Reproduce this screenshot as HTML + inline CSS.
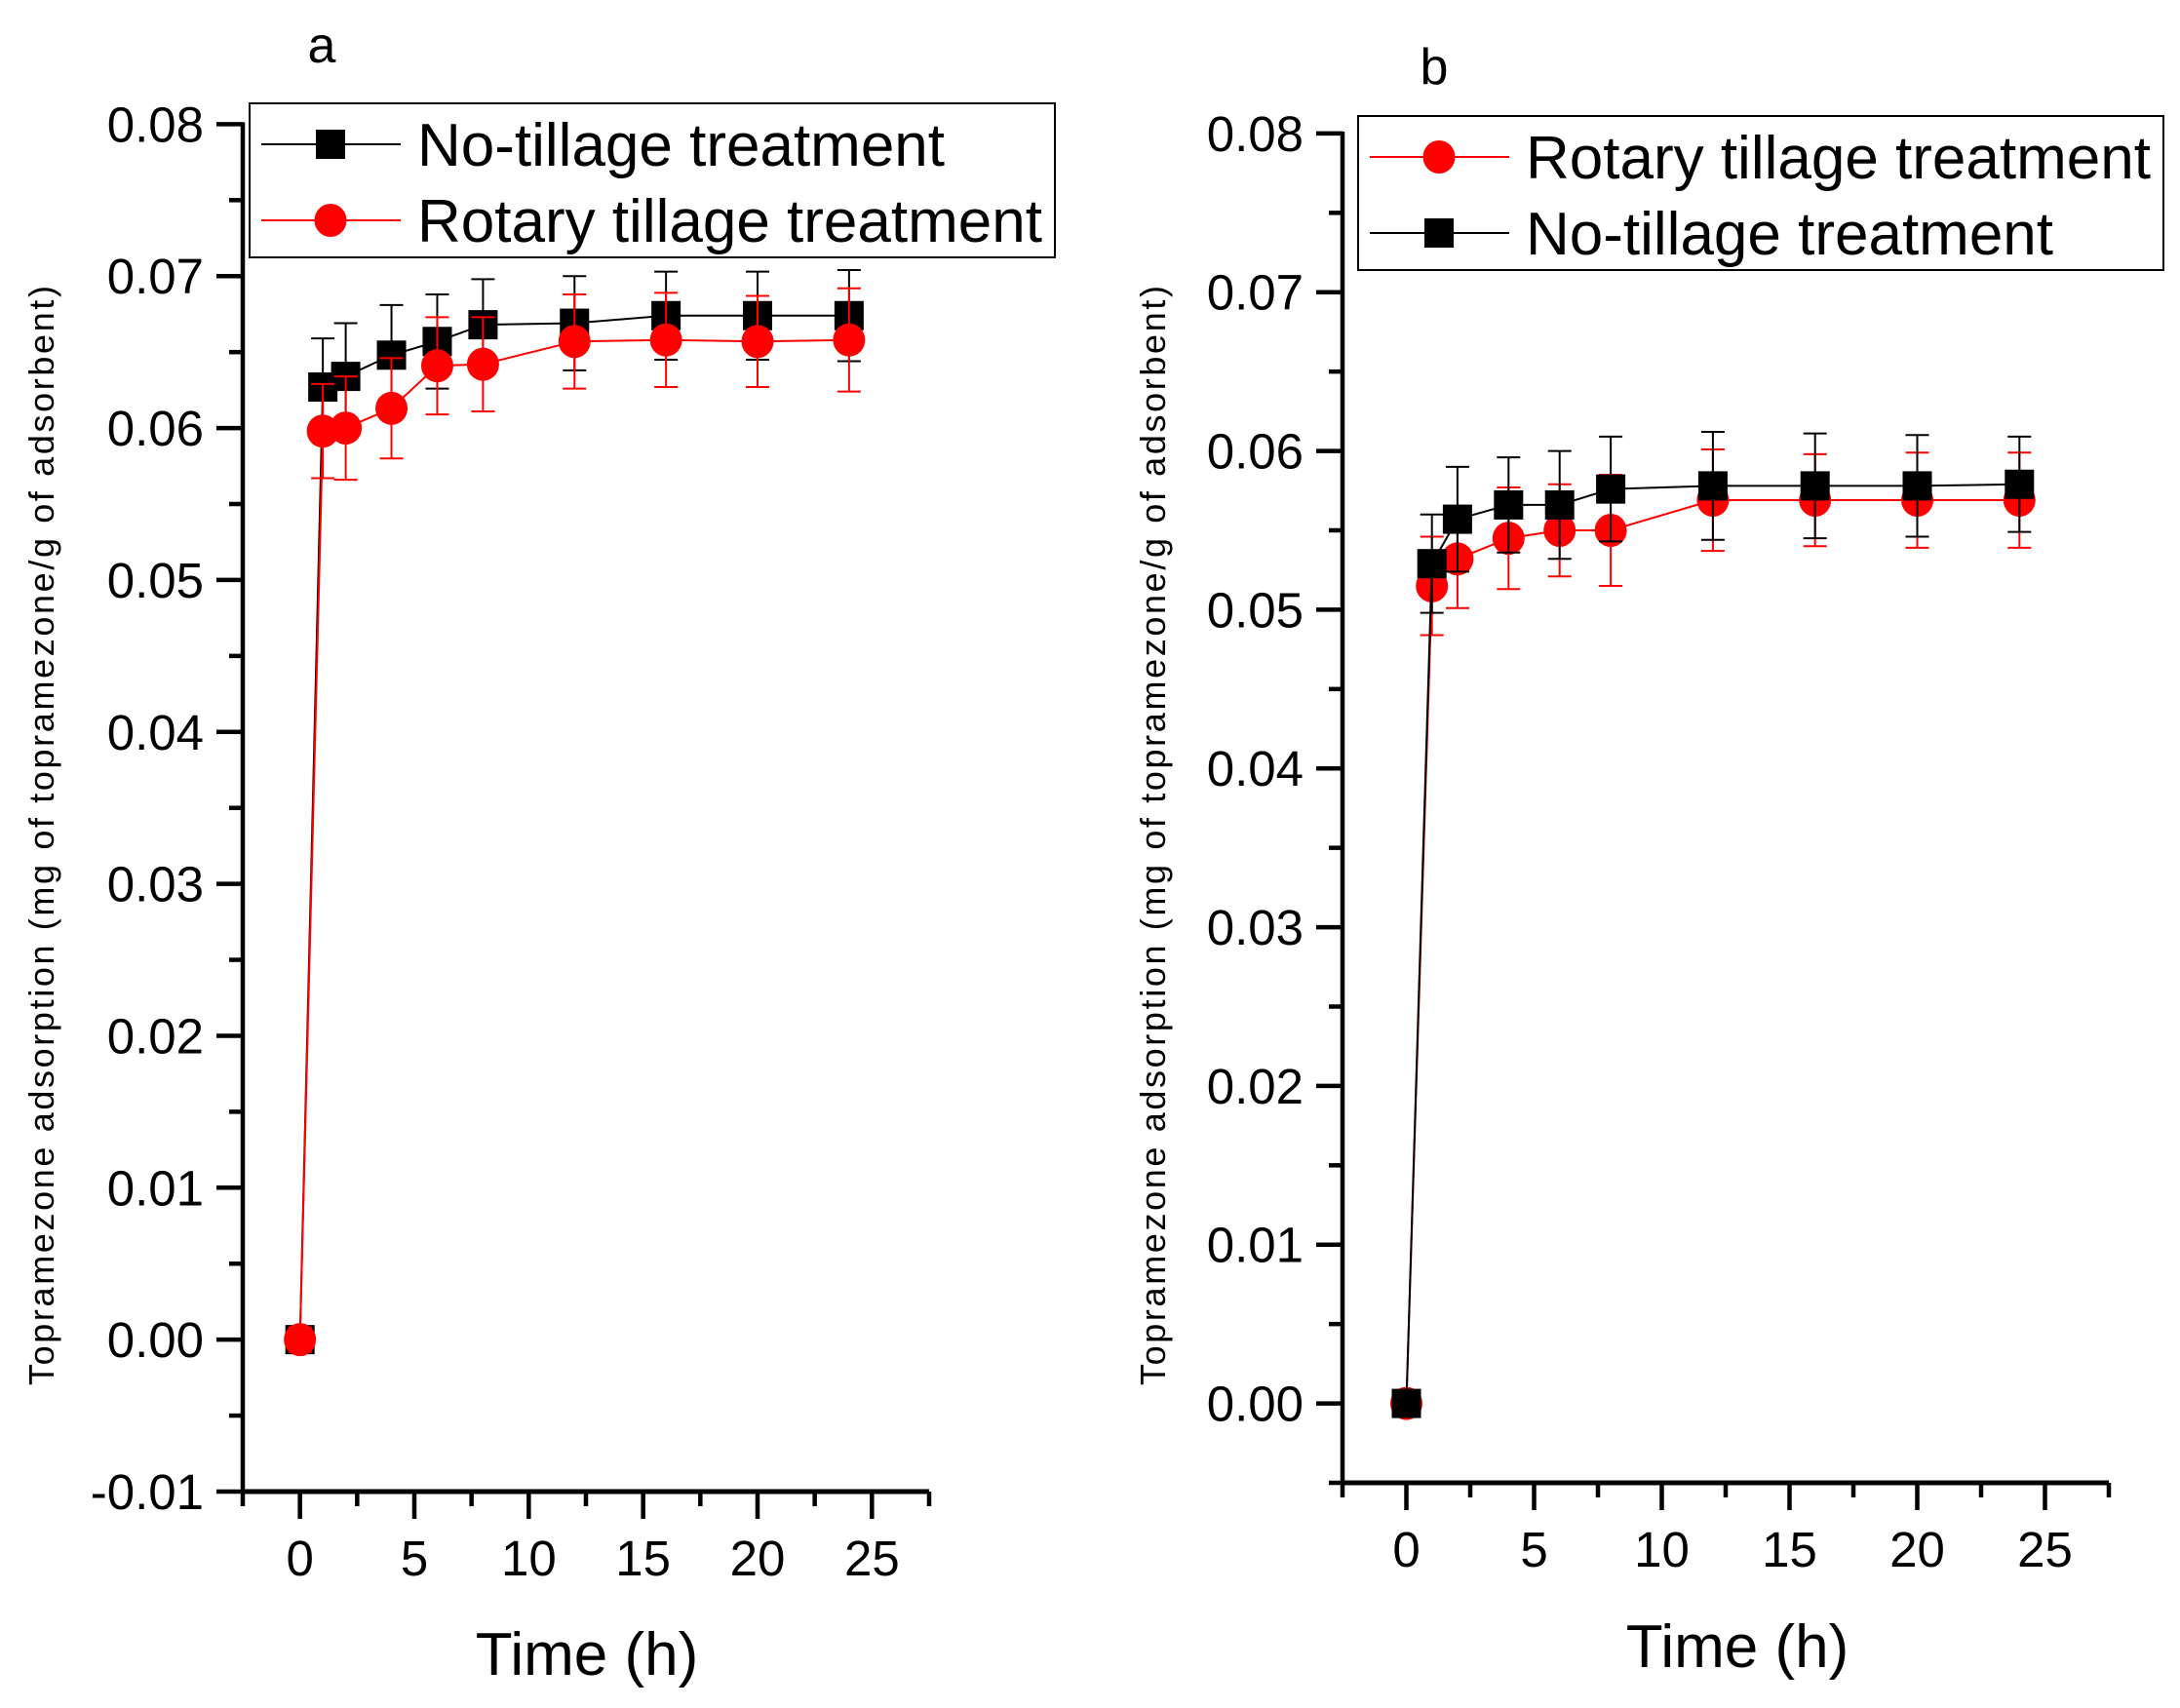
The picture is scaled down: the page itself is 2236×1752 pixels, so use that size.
<!DOCTYPE html>
<html><head><meta charset="utf-8"><style>
body{margin:0;background:#fff}
svg{display:block}
text{font-family:"Liberation Sans",Arial,sans-serif;fill:#000}
</style></head><body>
<svg id="chart" width="2236" height="1752" viewBox="0 0 2236 1752" xmlns="http://www.w3.org/2000/svg"></svg>
<script>
const times = [0, 1, 2, 4, 6, 8, 12, 16, 20, 24];
const aNoTill = [0, 0.0627, 0.0634, 0.0648, 0.0657, 0.0668, 0.0669, 0.0674, 0.0674, 0.0674];
const aNoTillErr = [0.0008, 0.0032, 0.0035, 0.0033, 0.0031, 0.0030, 0.0031, 0.0029, 0.0029, 0.0030];
const aRotary = [0, 0.0598, 0.0600, 0.0613, 0.0641, 0.0642, 0.0657, 0.0658, 0.0657, 0.0658];
const aRotaryErr = [0.0008, 0.0031, 0.0034, 0.0033, 0.0032, 0.0031, 0.0031, 0.0031, 0.0030, 0.0034];
const bNoTill = [0, 0.0529, 0.0557, 0.0566, 0.0566, 0.0576, 0.0578, 0.0578, 0.0578, 0.0579];
const bNoTillErr = [0.0008, 0.0031, 0.0033, 0.0030, 0.0034, 0.0033, 0.0034, 0.0033, 0.0032, 0.0030];
const bRotary = [0, 0.0515, 0.0532, 0.0545, 0.0550, 0.0550, 0.0569, 0.0569, 0.0569, 0.0569];
const bRotaryErr = [0.0008, 0.0031, 0.0031, 0.0032, 0.0029, 0.0035, 0.0032, 0.0029, 0.0030, 0.0030];
const xTickLabels = ["0", "5", "10", "15", "20", "25"];
const aYTickLabels = ["-0.01", "0.00", "0.01", "0.02", "0.03", "0.04", "0.05", "0.06", "0.07", "0.08"];
const bYTickLabels = ["0.00", "0.01", "0.02", "0.03", "0.04", "0.05", "0.06", "0.07", "0.08"];

const NS = "http://www.w3.org/2000/svg";
const svg = document.getElementById("chart");
function mk(tag, attrs, parent) {
  const e = document.createElementNS(NS, tag);
  for (const k in attrs) e.setAttribute(k, attrs[k]);
  (parent || svg).appendChild(e);
  return e;
}

function panel(cfg) {
  const g = mk("g", {});
  
  
  const X = t => cfg.x0 + (t - cfg.xmin) / (cfg.xmax - cfg.xmin) * (cfg.x1 - cfg.x0);
  const Y = v => cfg.y1 - (v - cfg.ymin) / (cfg.ymax - cfg.ymin) * (cfg.y1 - cfg.y0);
  const ya = mk("line", {x1: cfg.x0, y1: cfg.y1 + 2, x2: cfg.x0, y2: Y(0.08) - 2, stroke: "#000", "stroke-width": 4.5}, g);
  
  
  const xa = mk("line", {x1: cfg.x0 - 2, y1: cfg.y1, x2: cfg.x1, y2: cfg.y1, stroke: "#000", "stroke-width": 5}, g);
  
  
  for (let i = 0; i < cfg.yLabels.length; i++) {
    const v = parseFloat(cfg.yLabels[i]);
    const y = Y(v);
    mk("line", {x1: cfg.x0 - 27, y1: y, x2: cfg.x0, y2: y, stroke: "#000", "stroke-width": 4.5}, g);
    const t = mk("text", {x: cfg.x0 - 40, y: y + 18, "font-size": 51, "text-anchor": "end"}, g);
    t.textContent = cfg.yLabels[i];
    
    
    if (v + 0.005 <= 0.0801) {
      const ym = Y(v + 0.005);
      mk("line", {x1: cfg.x0 - 14, y1: ym, x2: cfg.x0, y2: ym, stroke: "#000", "stroke-width": 4.5}, g);
    }
  }
  if (cfg.ymin === -0.005) mk("line", {x1: cfg.x0 - 14, y1: Y(-0.005), x2: cfg.x0, y2: Y(-0.005), stroke: "#000", "stroke-width": 4.5}, g);
  for (let t = -2.5; t <= 27.51; t += 2.5) {
    const major = Math.abs(t / 5 - Math.round(t / 5)) < 1e-6;
    mk("line", {x1: X(t), y1: cfg.y1, x2: X(t), y2: cfg.y1 + (major ? 28 : 15), stroke: "#000", "stroke-width": 4.5}, g);
  }
  for (let i = 0; i < xTickLabels.length; i++) {
    const t = mk("text", {x: X(parseFloat(xTickLabels[i])), y: cfg.y1 + 86, "font-size": 51, "text-anchor": "middle"}, g);
    t.textContent = xTickLabels[i];
    
    
  }
  const xt = mk("text", {x: cfg.xTitleX, y: cfg.xTitleY, "font-size": 62, "text-anchor": "middle"}, g);
  xt.textContent = "Time (h)";
  
  
  const yt = mk("text", {x: 0, y: 0, "font-size": 36, "text-anchor": "middle", textLength: 1128, lengthAdjust: "spacing", transform: `translate(${cfg.yTitleX},857) rotate(-90)`}, g);
  yt.textContent = "Topramezone adsorption (mg of topramezone/g of adsorbent)";
  
  
  const pl = mk("text", {x: cfg.labelX, y: cfg.labelY, "font-size": 52, "text-anchor": "middle"}, g);
  pl.textContent = cfg.label;
  
  
  function series(vals, errs, color, shape, nm) {
    const sg = mk("g", {}, g);
    
    
    const pts = times.map((t, i) => X(t) + "," + Y(vals[i])).join(" ");
    mk("polyline", {points: pts, fill: "none", stroke: color, "stroke-width": 2}, sg);
    times.forEach((t, i) => {
      const x = X(t), yt2 = Y(vals[i] + errs[i]), yb = Y(vals[i] - errs[i]);
      mk("line", {x1: x, y1: yt2, x2: x, y2: yb, stroke: color, "stroke-width": 2}, sg);
      mk("line", {x1: x - 12, y1: yt2, x2: x + 12, y2: yt2, stroke: color, "stroke-width": 2}, sg);
      mk("line", {x1: x - 12, y1: yb, x2: x + 12, y2: yb, stroke: color, "stroke-width": 2}, sg);
      let m;
      if (shape === "sq") m = mk("rect", {x: x - 15, y: Y(vals[i]) - 15, width: 30, height: 30, fill: color}, sg);
      else m = mk("ellipse", {cx: x, cy: Y(vals[i]), rx: 16.5, ry: 17, fill: color}, sg);
      
      
    });
  }
  cfg.order.forEach(s => series(s[0], s[1], s[2], s[3], s[4]));
  const lg = mk("g", {}, g);
  
  
  mk("rect", {x: cfg.lgX, y: cfg.lgY, width: cfg.lgW, height: 158, fill: "#fff", stroke: "#000", "stroke-width": 2}, lg);
  cfg.legend.forEach((e, i) => {
    const y = cfg.lgY + 42 + i * 78;
    const eg = mk("g", {}, lg);
    
    
    mk("line", {x1: cfg.lgX + 12, y1: y, x2: cfg.lgX + 155, y2: y, stroke: e[1], "stroke-width": 2}, eg);
    const mx = cfg.lgX + 83;
    if (e[2] === "sq") mk("rect", {x: mx - 15, y: y - 15, width: 30, height: 30, fill: e[1]}, eg);
    else mk("ellipse", {cx: mx, cy: y, rx: 16.5, ry: 17, fill: e[1]}, eg);
    const tx = mk("text", {x: cfg.lgX + 172, y: y + 22, "font-size": 62}, eg);
    tx.textContent = e[0];
  });
}

panel({name: "panel-a", x0: 249, x1: 953, xmin: -2.5, xmax: 27.5, y0: 127.4, y1: 1530, ymin: -0.01, ymax: 0.08,
  yLabels: aYTickLabels, xTitleX: 602, xTitleY: 1718, yTitleX: 55, labelX: 330, labelY: 64, label: "a",
  order: [[aNoTill, aNoTillErr, "#000", "sq", "series-no-tillage"], [aRotary, aRotaryErr, "#ff0000", "ci", "series-rotary-tillage"]],
  lgX: 256, lgY: 106, lgW: 826,
  legend: [["No-tillage treatment", "#000", "sq"], ["Rotary tillage treatment", "#ff0000", "ci"]]});
panel({name: "panel-b", x0: 1377, x1: 2163, xmin: -2.5, xmax: 27.5, y0: 136.9, y1: 1521, ymin: -0.005, ymax: 0.08,
  yLabels: bYTickLabels, xTitleX: 1782, xTitleY: 1710, yTitleX: 1195, labelX: 1471, labelY: 86, label: "b",
  order: [[bRotary, bRotaryErr, "#ff0000", "ci", "series-rotary-tillage"], [bNoTill, bNoTillErr, "#000", "sq", "series-no-tillage"]],
  lgX: 1393, lgY: 119, lgW: 826,
  legend: [["Rotary tillage treatment", "#ff0000", "ci"], ["No-tillage treatment", "#000", "sq"]]});
</script>
</body></html>
